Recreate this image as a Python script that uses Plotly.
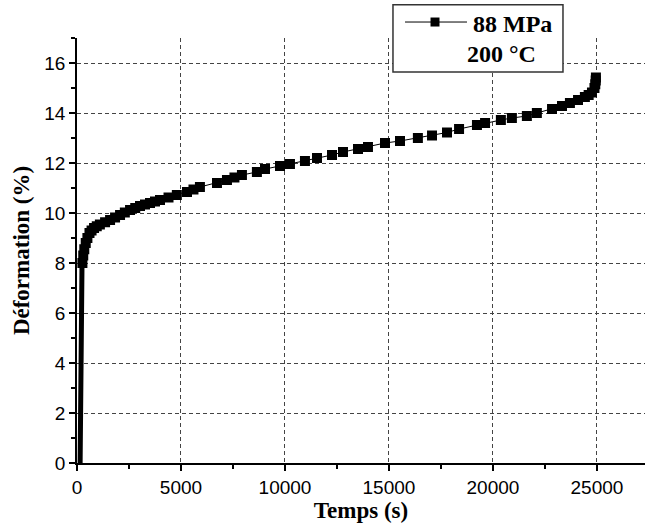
import plotly.graph_objects as go

# Initial (near-instantaneous) loading rise, drawn as a thick line
rise_t = [150, 165, 175, 180, 190, 210, 240, 260]
rise_eps = [0.0, 2.0, 4.0, 6.0, 6.8, 7.4, 7.9, 8.0]

# Creep curve with markers
t = [260, 300, 350, 420, 500, 600, 700, 820, 950, 1100, 1350, 1590, 1830, 2070,
     2300, 2550, 2800, 3030, 3270, 3510, 3750, 3990, 4400, 4800, 5290, 5600,
     5910, 6730, 7210, 7570, 7930, 8650, 9040, 9760, 10240, 10960, 11540, 12260,
     12790, 13510, 13990, 14810, 15530, 16390, 17070, 17790, 18370, 19230, 19620,
     20380, 20910, 21630, 22110, 22840, 23320, 23700, 24090, 24420, 24600, 24760,
     24880, 24920, 24940, 24950]
eps = [8.0, 8.3, 8.55, 8.8, 9.0, 9.2, 9.3, 9.4, 9.47, 9.54, 9.63, 9.72, 9.82, 9.92,
       10.02, 10.12, 10.2, 10.28, 10.34, 10.4, 10.46, 10.52, 10.62, 10.72, 10.84, 10.94,
       11.04, 11.2, 11.32, 11.42, 11.52, 11.64, 11.76, 11.88, 11.96, 12.08, 12.2, 12.32,
       12.44, 12.56, 12.64, 12.8, 12.88, 13.0, 13.1, 13.22, 13.36, 13.52, 13.6,
       13.72, 13.8, 13.88, 14.0, 14.16, 14.28, 14.4, 14.52, 14.64, 14.72, 14.82,
       15.0, 15.15, 15.3, 15.42]

series_name = "88 MPa"
condition = "200 °C"

serif = "Liberation Serif, Times New Roman, serif"
sans = "Liberation Sans, Arial, sans-serif"

fig = go.Figure()
fig.add_trace(go.Scatter(x=rise_t, y=rise_eps, mode="lines",
                         line=dict(color="black", width=5), showlegend=False,
                         hoverinfo="skip"))
fig.add_trace(go.Scatter(x=t, y=eps, mode="lines+markers", name=series_name,
                         showlegend=False,
                         line=dict(color="black", width=1),
                         marker=dict(symbol="square", size=10, color="black")))

axis_common = dict(
    showline=True, linecolor="black", linewidth=1.5,
    ticks="outside", tickcolor="black", tickwidth=1.5,
    showgrid=True, gridcolor="#444", gridwidth=1, griddash="4px,3px",
    zeroline=False, mirror=False, automargin=False,
    tickformat="d",
    tickfont=dict(family=sans, size=19, color="black"),
)

fig.update_xaxes(range=[0, 27310], tick0=0, dtick=5000, ticklen=6,
                 minor=dict(dtick=2500, ticks="outside", ticklen=4,
                            tickcolor="black", tickwidth=1.5, showgrid=False),
                 title=dict(text="<b>Temps (s)</b>", standoff=1,
                            font=dict(family=serif, size=23, color="black")),
                 **axis_common)
fig.update_yaxes(range=[0, 17], tick0=0, dtick=2, ticklen=6,
                 minor=dict(dtick=1, ticks="outside", ticklen=4,
                            tickcolor="black", tickwidth=1.5, showgrid=False),
                 title=dict(text="<b>Déformation (%)</b>", standoff=8,
                            font=dict(family=serif, size=23, color="black")),
                 **axis_common)

# Inset key (box, line sample with square marker, two text lines)
fig.add_shape(type="rect", xref="paper", yref="paper",
              x0=0.5563, x1=0.8556, y0=0.920, y1=1.078,
              line=dict(color="#333", width=1.5), fillcolor="white", layer="above")
fig.add_shape(type="line", xref="paper", yref="paper",
              x0=0.5775, x1=0.6866, y0=1.0376, y1=1.0376,
              line=dict(color="black", width=1), layer="above")
fig.add_shape(type="rect", xref="paper", yref="paper",
              x0=0.6224, x1=0.6382, y0=1.0270, y1=1.0482,
              line=dict(color="black", width=0), fillcolor="black", layer="above")
fig.add_annotation(xref="paper", yref="paper", x=0.6937, y=1.032,
                   xanchor="left", yanchor="middle", showarrow=False,
                   text="<b>" + series_name + "</b>",
                   font=dict(family=serif, size=24, color="black"))
fig.add_annotation(xref="paper", yref="paper", x=0.6831, y=0.962,
                   xanchor="left", yanchor="middle", showarrow=False,
                   text="<b>" + condition + "</b>",
                   font=dict(family=serif, size=24, color="black"))

fig.update_layout(
    width=645, height=528,
    margin=dict(l=77, r=0, t=38, b=65, autoexpand=False),
    plot_bgcolor="white", paper_bgcolor="white",
    showlegend=False,
)

fig.write_html("out.html", config={"displayModeBar": False},
               post_script="document.body.style.margin='0';")
